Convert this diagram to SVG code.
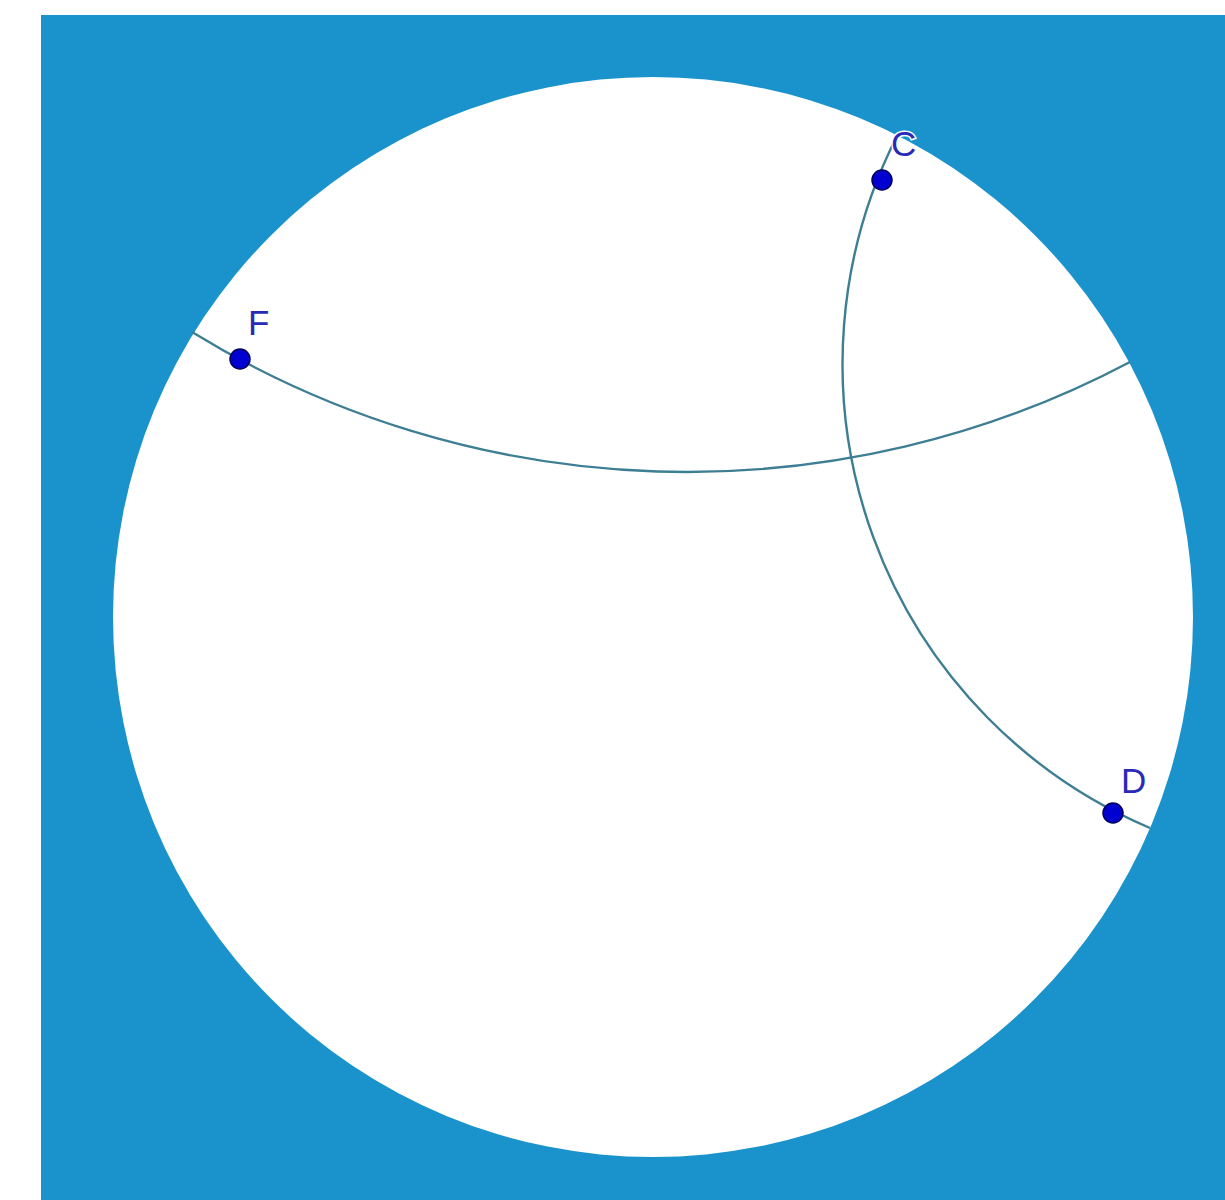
<svg xmlns="http://www.w3.org/2000/svg" width="1225" height="1200" viewBox="0 0 1225 1200">
<style>
.geo{fill:none;stroke:#3d7e92;stroke-width:2.4}
.pt{fill:#0000d0;stroke:#00005a;stroke-width:1.5}
.lbl{font-family:"Liberation Sans",Arial,sans-serif;font-size:35px;fill:#2a2ab8;paint-order:stroke;stroke:#ffffff;stroke-width:3}
</style>
<rect x="0" y="0" width="1225" height="1200" fill="#ffffff"/>
<rect id="background" x="41" y="15" width="1184" height="1185" fill="#1a93cc"/>
<circle id="disk" cx="653" cy="617" r="540" fill="#ffffff"/>
<g id="connectors">
<path class="geo" d="M192,332 A946,946 0 0 0 1130,362"/>
<path class="geo" d="M897,136 A504,504 0 0 0 1150,828"/>
</g>
<g id="nodeC"><circle class="pt" cx="882" cy="180" r="10"/><text class="lbl" x="891" y="156">C</text></g>
<g id="nodeF"><circle class="pt" cx="240" cy="359" r="10"/><text class="lbl" x="248" y="335">F</text></g>
<g id="nodeD"><circle class="pt" cx="1113" cy="813" r="10"/><text class="lbl" x="1121" y="793">D</text></g>
</svg>
